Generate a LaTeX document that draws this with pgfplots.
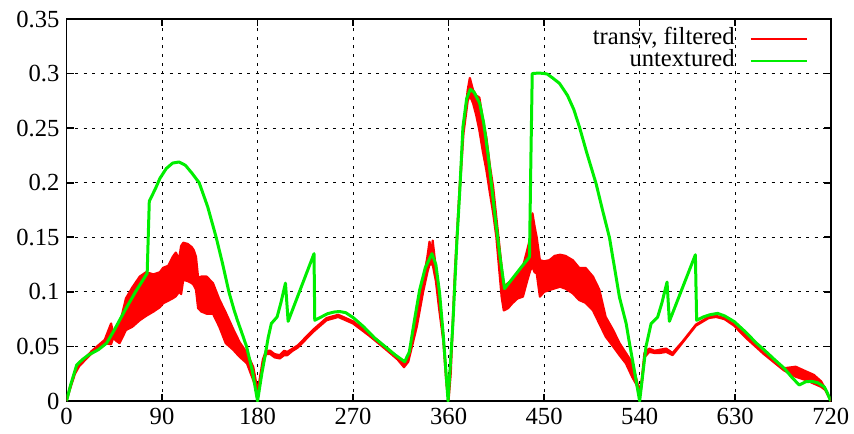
\documentclass[border=0pt]{standalone}
\usepackage{pgfplots}
\pgfplotsset{compat=1.18}
\usepackage{fontspec}
\setmainfont{Liberation Serif}
\definecolor{gpred}{RGB}{255,0,0}
\definecolor{gpgreen}{RGB}{0,238,0}
\begin{document}
\begin{tikzpicture}[font=\fontsize{12.3}{14.8}\selectfont]
\begin{axis}[
  scale only axis, width=382.1pt, height=191pt,
  xmin=0, xmax=720, ymin=0, ymax=0.35,
  xtick={0,90,...,720},
  ytick={0,0.05,0.1,0.15,0.2,0.25,0.3,0.35},
  scaled y ticks=false,
  /pgf/number format/assume math mode=true,
  yticklabel style={/pgf/number format/fixed, /pgf/number format/precision=2},
  axis line style={black, line width=0.9pt},
  tick style={black, line width=0.8pt},
  major tick length=3.5pt,
  tick align=inside,
  grid=major,
  major grid style={black, line width=0.45pt, dash pattern=on 1.5pt off 2.8pt},
  legend style={draw=none, fill=none, at={(axis description cs:1,1)}, xshift=-11.5pt, yshift=-4.5pt, anchor=north east,
     inner sep=0pt, outer sep=0pt, row sep=0pt, column sep=7.5pt,
     nodes={inner sep=0pt, text height=8pt, text depth=3pt}},
  legend cell align=right,
  legend plot pos=right,
  legend image code/.code={\draw[#1] (0pt,0pt) -- (28pt,0pt);},
]
% transv, filtered: upper envelope forward, lower envelope backward
\addplot[draw=gpred, fill=gpred, line width=1.1pt, line join=round, forget plot] coordinates {
(0,0) (3,0.012) (8,0.027) (12,0.034) (18,0.040) (24,0.046) (30,0.051) (36,0.056) (42,0.071) (44,0.062)
(50,0.070) (56,0.094) (62,0.104) (69,0.114) (75,0.118) (82,0.116) (88,0.118) (91,0.122) (96,0.124)
(100,0.132) (103,0.136) (106,0.130) (108,0.142) (110,0.145) (114,0.144) (118,0.141) (120,0.138)
(122,0.132) (124,0.113) (127,0.114) (132,0.114) (138,0.108) (144,0.093) (150,0.081) (157,0.066)
(163,0.054) (170,0.044) (176,0.031) (179,0.015) (180,0.008) (182,0.020) (185,0.038) (188,0.046)
(192,0.046) (196,0.043) (201,0.042) (205,0.046) (208,0.045) (213,0.048) (218,0.051) (223,0.056)
(232,0.065) (245,0.076) (256,0.079) (270,0.073) (285,0.062) (300,0.050) (312,0.040) (318,0.034)
(322,0.040) (330,0.075) (336,0.110) (340,0.132) (342,0.146) (344,0.135) (345,0.147) (347,0.130)
(351,0.095) (355,0.060) (358,0.020) (360,0.003) (362,0.030) (366,0.120) (370,0.190) (374,0.250)
(378,0.285) (380,0.296) (383,0.285) (386,0.280) (389,0.278) (392,0.260) (395.5,0.242) (399,0.215)
(402,0.196) (405,0.168) (408,0.141) (412,0.105) (416,0.108) (420,0.111) (425,0.116) (430,0.123)
(434,0.138) (437,0.150) (439,0.172) (441,0.160) (443,0.150) (446,0.129) (450,0.128) (455,0.129)
(460,0.133) (465,0.134) (470,0.133) (477,0.129) (483,0.122) (489,0.122) (496,0.114) (502,0.102)
(508,0.077) (515,0.065) (521,0.053) (527,0.044) (533,0.035) (537,0.020) (540,0.008) (542,0.020)
(544.5,0.044) (549,0.048) (554,0.046) (559,0.047) (565,0.048) (571,0.044) (580,0.054) (593,0.070)
(605,0.077) (612,0.078) (620,0.076) (629,0.070) (640,0.060) (657,0.044) (676,0.030) (687,0.0314)
(697,0.027) (704,0.024) (711,0.018) (715,0.011) (720,0)
(715,0.010) (711,0.013) (704,0.016) (697,0.019) (687,0.0223) (676,0.028) (657,0.043) (640,0.058)
(629,0.069) (620,0.075) (612,0.077) (605,0.076) (593,0.069) (580,0.053) (571,0.042) (565,0.045)
(559,0.044) (554,0.044) (549,0.045) (544.5,0.040) (542,0.015) (540,0.004) (537,0.015) (533,0.022)
(527,0.0345) (521,0.042) (515,0.050) (508,0.059) (502,0.071) (496,0.083) (489,0.090) (483,0.0925)
(477,0.0987) (470,0.103) (465,0.1047) (455,0.1017) (450,0.100) (446,0.0956) (443,0.117) (441,0.118)
(439,0.123) (437,0.120) (434,0.110) (430,0.0956) (425,0.094) (420,0.0895) (416,0.085) (412,0.083)
(410,0.095) (408,0.117) (405,0.150) (402,0.172) (399,0.190) (395.5,0.212) (392,0.230) (389,0.248)
(386,0.262) (383,0.273) (380,0.280) (378,0.275) (374,0.245) (370,0.185) (366,0.115) (362,0.025)
(360,0.001) (358,0.015) (355,0.055) (351,0.085) (348,0.110) (345,0.125) (342,0.125) (340,0.118)
(336,0.100) (330,0.068) (322,0.036) (318,0.031) (312,0.038) (300,0.048) (285,0.060) (270,0.071)
(256,0.077) (245,0.074) (232,0.063) (223,0.054) (218,0.049) (213,0.046) (208,0.042) (205,0.042)
(201,0.039) (196,0.040) (192,0.043) (188,0.043) (185,0.035) (182,0.015) (180,0.004) (179,0.010)
(176,0.019) (170,0.0345) (163,0.0406) (157,0.047) (150,0.053) (144,0.068) (138,0.080) (132,0.080)
(127,0.082) (124,0.085) (122,0.102) (120,0.106) (118,0.108) (114,0.110) (110,0.111) (108,0.098)
(106,0.100) (103,0.096) (100,0.094) (96,0.092) (91,0.0895) (88,0.086) (82,0.082) (75,0.078)
(69,0.074) (62,0.068) (56,0.065) (50,0.053) (47,0.055) (44,0.058) (42,0.052) (36,0.053)
(30,0.049) (24,0.044) (18,0.038) (12,0.032) (8,0.025) (3,0.010) (0,0)
};
% untextured
\addplot[draw=gpgreen, line width=1.5pt, line join=round, forget plot] coordinates {
(0,0) (4,0.015) (9.6,0.033) (15,0.038) (20.5,0.042) (30,0.047) (37.8,0.053) (45,0.065) (55,0.083)
(65,0.100) (76,0.117) (77,0.150) (78,0.183) (84,0.195) (88,0.204) (94,0.213) (100,0.218) (106,0.219)
(112,0.216) (118,0.209) (125,0.200) (133,0.178) (141,0.150) (147,0.126) (153,0.100) (158,0.083)
(161,0.074) (165,0.063) (169.6,0.050) (175,0.028) (180,0) (184,0.025) (187,0.041) (190,0.058)
(193,0.071) (198.4,0.077) (202,0.090) (206.3,0.108) (208.8,0.073) (233.2,0.135) (233.9,0.074)
(240,0.077) (246,0.080) (252,0.0815) (257,0.082) (263,0.081) (270,0.0765) (280,0.068) (290,0.058)
(300,0.050) (310,0.042) (318.6,0.036) (323,0.045) (328,0.075) (332.7,0.1017) (338,0.122)
(344.3,0.135) (348,0.125) (351.5,0.099) (355,0.060) (359.5,0) (364,0.070) (368,0.150) (370.4,0.190)
(373.5,0.251) (377,0.277) (380.4,0.2856) (384,0.283) (389.2,0.273) (393,0.255) (397,0.227)
(401,0.193) (404.9,0.160) (409,0.128) (412.7,0.103) (420,0.112) (428,0.122) (436.2,0.132)
(437.5,0.220) (438.8,0.300) (445,0.3005) (450.4,0.300) (453,0.2995) (458,0.296) (464.5,0.291)
(472,0.280) (478,0.267) (483.3,0.251) (490,0.228) (499,0.199) (505,0.175) (511.5,0.150)
(516,0.124) (521,0.095) (527.3,0.071) (530.4,0.053) (535,0.028) (540,0) (543,0.025) (546,0.050)
(550.8,0.071) (557,0.077) (561,0.090) (565.8,0.109) (568,0.073) (592.5,0.134) (593.7,0.074)
(600,0.077) (606,0.079) (613.5,0.0803) (620,0.078) (629.2,0.0727) (640,0.063) (650,0.053)
(657.4,0.0467) (667,0.038) (676.2,0.030) (684,0.021) (690.4,0.0147) (696.7,0.0177) (702,0.018)
(707.6,0.0168) (713.9,0.013) (717,0.007) (720,0)
};
\addlegendimage{gpred, line width=1pt}
\addlegendentry{transv, filtered}
\addlegendimage{gpgreen, line width=1pt}
\addlegendentry{untextured}
\end{axis}
\pgfresetboundingbox
\path ([xshift=-33.25pt,yshift=-16pt]current axis.south west) rectangle ([xshift=11.65pt,yshift=9.5pt]current axis.north east);
\end{tikzpicture}
\end{document}
